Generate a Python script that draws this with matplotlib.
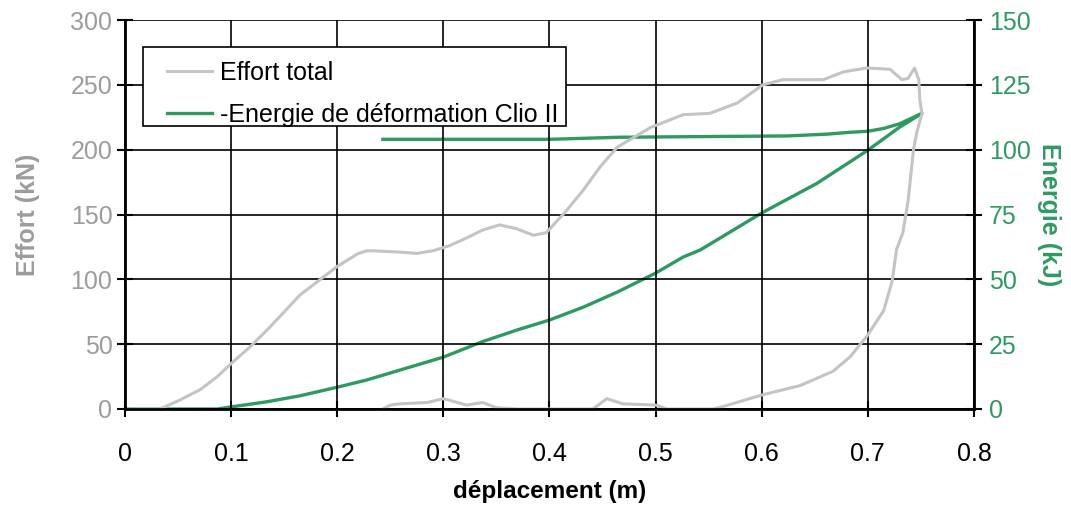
import matplotlib.pyplot as plt
from matplotlib.patches import Rectangle

plt.rcParams['font.family'] = ['Liberation Sans', 'DejaVu Sans']

# Effort total (kN): chargement puis déchargement
d_effort = [0.0, 0.033, 0.052, 0.071, 0.087, 0.1, 0.118, 0.134, 0.149, 0.165, 0.181, 0.2,
            0.212, 0.22, 0.228, 0.234, 0.259, 0.275, 0.29, 0.306, 0.322, 0.337, 0.353,
            0.369, 0.385, 0.397, 0.416, 0.432, 0.448, 0.464, 0.495, 0.526, 0.551, 0.577,
            0.601, 0.62, 0.658, 0.677, 0.699, 0.721, 0.732, 0.738, 0.744, 0.748, 0.749,
            0.751, 0.746, 0.743, 0.738, 0.733, 0.727, 0.723, 0.715, 0.699, 0.683, 0.667,
            0.636, 0.601, 0.564, 0.554, 0.511, 0.5, 0.469, 0.454, 0.441, 0.4, 0.37, 0.35,
            0.337, 0.322, 0.3, 0.285, 0.259, 0.25, 0.243]
effort = [0, 0, 7, 15, 25, 35, 48, 61, 74, 88, 98, 110,
          116, 120, 122, 122, 121, 120, 122, 126, 132, 138, 142,
          139, 134, 136, 153, 169, 187, 202, 217, 227, 228, 236,
          250, 254, 254, 260, 263, 262, 254, 255, 263, 254, 238,
          228, 213, 200, 161, 136, 123, 99, 76, 56, 40, 29,
          18, 11, 2, 0, 0, 3, 4, 8, 0, 0, 0, 1,
          5, 3, 8, 5, 4, 3, 0]

# Energie de déformation (kJ)
d_energie = [0.0, 0.087, 0.1, 0.134, 0.165, 0.2, 0.228, 0.259, 0.3, 0.337, 0.369, 0.4,
             0.432, 0.464, 0.5, 0.526, 0.542, 0.6, 0.652, 0.7, 0.73, 0.751,
             0.73, 0.715, 0.7, 0.683, 0.662, 0.624, 0.467, 0.4, 0.243]
energie = [0, 0, 0.8, 2.8, 5.1, 8.4, 11.2, 15, 20, 26, 30.4, 34.3,
           39.3, 45.1, 52.4, 58.6, 61.3, 75.6, 87, 99.8, 108.7, 114,
           110, 108.2, 107.1, 106.7, 106, 105.3, 104.8, 104, 104]

gray_line = '#c4c4c4'
gray_txt = '#9c9c9c'
green = '#2e9a62'

fig = plt.figure(figsize=(10.71, 5.08), dpi=100)
ax = fig.add_axes([0.1167, 0.1949, 0.7927, 0.7657])
ax2 = ax.twinx()

l1, = ax.plot(d_effort, effort, color=gray_line, lw=2.2, label='Effort total')
l2, = ax2.plot(d_energie, energie, color=green, lw=2.4, label='-Energie de déformation Clio II')

ax.set_xlim(0, 0.8)
ax.set_ylim(0, 300)
ax2.set_ylim(0, 150)
ax.set_xticks([0, 0.1, 0.2, 0.3, 0.4, 0.5, 0.6, 0.7, 0.8])
ax.set_xticklabels(['0', '0.1', '0.2', '0.3', '0.4', '0.5', '0.6', '0.7', '0.8'])
ax.set_yticks(range(0, 301, 50))
ax2.set_yticks(range(0, 151, 25))

ax.grid(True, color='black', lw=1.2)
ax.set_axisbelow(True)
for a in (ax, ax2):
    for s in a.spines.values():
        s.set_color('black')
        s.set_linewidth(1.2)
ax.spines['top'].set_visible(False)
ax2.spines['top'].set_visible(False)
ax.spines['left'].set_linewidth(2)
ax.spines['bottom'].set_linewidth(2)
ax2.spines['right'].set_linewidth(2)

ax.tick_params(axis='x', labelsize=18, direction='inout', length=12, width=1.5, pad=18, colors='black')
ax.tick_params(axis='y', labelsize=18, direction='inout', length=12, width=1.5, pad=3, labelcolor=gray_txt)
ax2.tick_params(axis='y', labelsize=18, direction='inout', length=12, width=1.5, pad=5, labelcolor=green)

ax.set_xlabel('déplacement (m)', fontsize=17.5, fontweight='bold', labelpad=10)
ax.set_ylabel('Effort (kN)', fontsize=18, fontweight='bold', color=gray_txt, labelpad=22)
ax2.set_ylabel('Energie (kJ)', fontsize=18, fontweight='bold', color=green, rotation=270,
               va='bottom', labelpad=4)

# legend frame drawn separately to get the wide left margin of the original
ax.add_patch(Rectangle((0.0212, 0.7275), 0.4982, 0.2031, transform=ax.transAxes,
                       facecolor='white', edgecolor='black', lw=1.2, zorder=4.5))
leg = ax.legend(handles=[l1, l2], loc='upper left', bbox_to_anchor=(0.0495, 0.895),
                fontsize=18, frameon=False, handlelength=1.8, borderpad=0,
                labelspacing=0.72, handletextpad=0.3, borderaxespad=0)
ax.set_zorder(ax2.get_zorder() + 1)
ax.patch.set_visible(False)

fig.savefig('out.png', dpi=100)
